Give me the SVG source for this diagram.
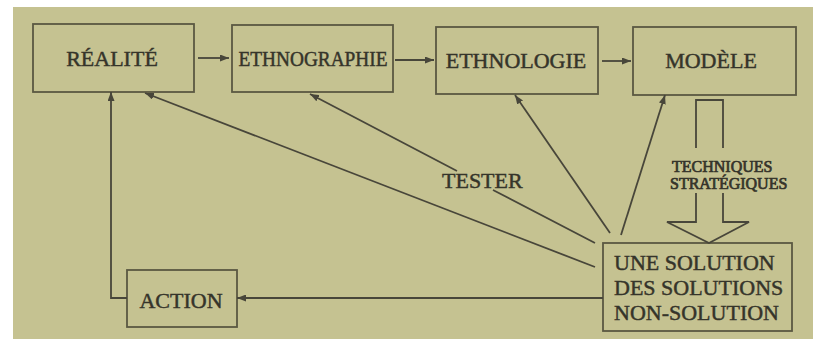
<svg xmlns="http://www.w3.org/2000/svg" width="813" height="339" viewBox="0 0 813 339">
<defs>
<style>
.box{fill:none;stroke:#5a5842;stroke-width:1.8}
.t{font-family:"Liberation Serif","Times New Roman",serif;fill:#35342a;stroke:#35342a;stroke-width:0.45;font-size:22px}
.c{stroke:#48463a;stroke-width:1.8;fill:none}
</style>
<marker id="ah" viewBox="0 0 9 7" refX="9" refY="3.5" markerWidth="9" markerHeight="7" markerUnits="userSpaceOnUse" orient="auto">
<path d="M0,0 L9,3.5 L0,7 z" fill="#48463a"/>
</marker>
</defs>
<rect width="813" height="339" fill="#ffffff"/>
<rect x="13" y="7" width="800" height="332" fill="#c5c291"/>
<g id="realite"><rect class="box" x="33" y="24" width="161" height="68"/><text class="t" x="112" y="66" text-anchor="middle">RÉALITÉ</text></g>
<g id="ethnographie"><rect class="box" x="232" y="25" width="161" height="67"/><text class="t" x="313" y="66" text-anchor="middle" textLength="149" lengthAdjust="spacingAndGlyphs" style="font-size:20px">ETHNOGRAPHIE</text></g>
<g id="ethnologie"><rect class="box" x="436" y="27" width="162" height="67"/><text class="t" x="516" y="68" text-anchor="middle">ETHNOLOGIE</text></g>
<g id="modele"><rect class="box" x="633" y="27" width="163" height="68"/><text class="t" x="711" y="68" text-anchor="middle">MODÈLE</text></g>
<g id="action"><rect class="box" x="127" y="270" width="110" height="57"/><text class="t" x="181" y="308" text-anchor="middle">ACTION</text></g>
<g id="solution"><rect class="box" x="603" y="243" width="189" height="88"/>
<text class="t" x="614" y="270">UNE SOLUTION</text>
<text class="t" x="614" y="295">DES SOLUTIONS</text>
<text class="t" x="614" y="320">NON-SOLUTION</text></g>
<g id="connectors">
<path class="c" d="M198,58 L229,58" marker-end="url(#ah)"/>
<path class="c" d="M395,60 L434,60" marker-end="url(#ah)"/>
<path class="c" d="M602,61 L631,61" marker-end="url(#ah)"/>
<path class="c" d="M595,267 L145,93" marker-end="url(#ah)"/>
<path class="c" d="M595,243 L493,190 M457,171 L310,94" marker-end="url(#ah)"/>
<path class="c" d="M610,233 L515,95" marker-end="url(#ah)"/>
<path class="c" d="M621,235 L665,95" marker-end="url(#ah)"/>
<path class="c" d="M603,298 L237,298" marker-end="url(#ah)"/>
<path class="c" d="M127,298 L111,298 L111,92" marker-end="url(#ah)"/>
<path class="c" d="M696,148 L696,100 L723,100 L723,148 M696,193 L696,222 L667,222 L709,243 L749,222 L723,222 L723,193"/>
<text class="t" x="442" y="188">TESTER</text>
<text class="t" x="672" y="172" style="font-size:16px;stroke-width:0.7">TECHNIQUES</text>
<text class="t" x="670" y="189" style="font-size:16px;stroke-width:0.7">STRATÉGIQUES</text>
</g>
</svg>
